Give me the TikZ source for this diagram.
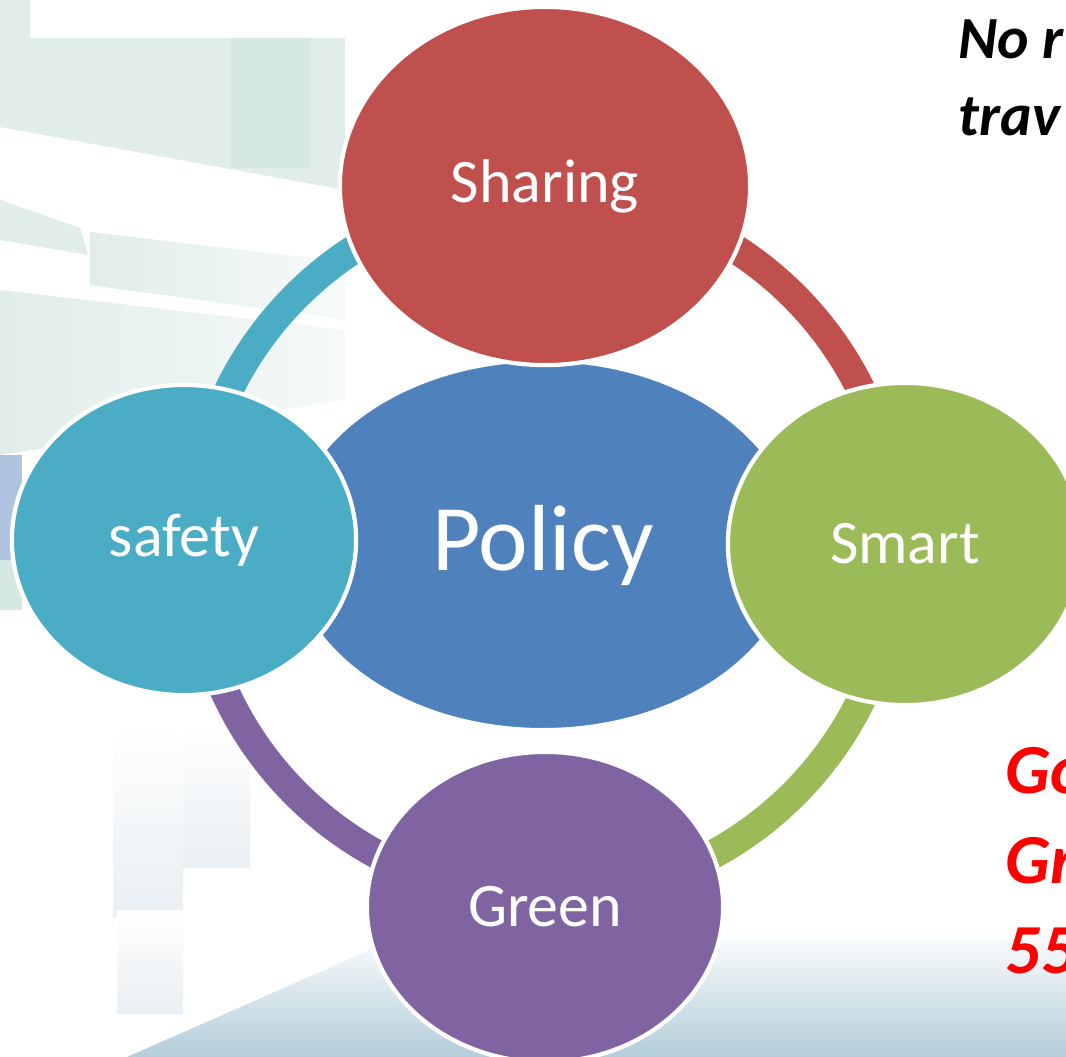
\documentclass[tikz,border=0pt]{standalone}
\usepackage{fontspec}
\setmainfont{Carlito}
\usetikzlibrary{shapes.geometric}

\definecolor{SharingRed}{HTML}{C0504D}
\definecolor{PolicyBlue}{HTML}{4F81BD}
\definecolor{SmartGreen}{HTML}{9BBB59}
\definecolor{GreenPurple}{HTML}{8064A2}
\definecolor{SafetyTeal}{HTML}{4BACC6}
\definecolor{HazeTeal}{HTML}{E0EDEA}
\definecolor{PillarTeal}{HTML}{D5E8E4}
\definecolor{WallBlue}{HTML}{AFC4DE}
\definecolor{PanelGrey}{HTML}{E9EFF3}
\definecolor{FloorBlue}{HTML}{B3CDD9}
\definecolor{AlertRed}{HTML}{FF0000}

\begin{document}
\begin{tikzpicture}[x=0.01cm, y=-0.01cm]
\useasboundingbox (0,0) rectangle (1066,1057);
\clip (0,0) rectangle (1066,1057);

\coordinate (Hub) at (545, 545);
\coordinate (P_1) at (543, 545);
\coordinate (S_1) at (545, 186);
\coordinate (S_2) at (905, 544);
\coordinate (S_3) at (545, 907);
\coordinate (S_4) at (184, 540);


\fill[white] (0,0) rectangle (1066,1057);
\fill[HazeTeal] (0,0) -- (30,0) -- (30,38) -- (345,38) -- (345,190) -- (0,127) -- cycle;
\fill[PillarTeal] (230,38) rectangle (310,168);
\fill[HazeTeal] (0,200) -- (80,228) -- (88,255) -- (0,240) -- cycle;
\shade[left color=HazeTeal, right color=HazeTeal!25] (90,232) -- (345,262) -- (345,320) -- (90,285) -- cycle;
\shade[left color=HazeTeal, right color=HazeTeal!30] (0,290) -- (345,330) -- (345,400) -- (0,455) -- cycle;
\fill[WallBlue] (0,455) rectangle (22,560);
\fill[PillarTeal] (0,560) rectangle (22,610);
\shade[top color=white, bottom color=PanelGrey] (113,727) rectangle (183,917);
\shade[top color=white, bottom color=PanelGrey] (183,723) rectangle (250,867);
\shade[top color=white, bottom color=PanelGrey] (117,910) rectangle (183,1013);
\shade[top color=white, bottom color=FloorBlue] (127,1057) -- (370,950) -- (700,928) -- (1066,928) -- (1066,1057) -- cycle;


\tikzset{RingStyle/.style = {line width=0.29cm} }

\draw[ RingStyle, SharingRed] ([shift={(-90:352)}]Hub) arc[start angle=-90, end angle=0, radius=352];
\draw[ RingStyle, SmartGreen] ([shift={(0:352)}]Hub) arc[start angle=0, end angle=90, radius=352];
\draw[ RingStyle, GreenPurple] ([shift={(90:352)}]Hub) arc[start angle=90, end angle=180, radius=352];
\draw[ RingStyle, SafetyTeal] ([shift={(180:352)}]Hub) arc[start angle=180, end angle=270, radius=352];


\tikzset{BubbleStyle/.style = {
 shape = ellipse,
 draw = white,
 line width = 1.2pt,
 text = white,
 inner sep = 0pt,
 font = \fontsize{17.6}{21}\selectfont} }

\node[BubbleStyle, fill=PolicyBlue, minimum width=5.1cm, minimum height=3.7cm,
 font=\fontsize{26.7}{31}\selectfont] (Policy) at (P_1) {Policy};
\node[BubbleStyle, fill=SharingRed, minimum width=4.1cm, minimum height=3.58cm] (Sharing) at (S_1) {Sharing};
\node[BubbleStyle, fill=SmartGreen, minimum width=3.54cm, minimum height=3.22cm] (Smart) at (S_2) {Smart};
\node[BubbleStyle, fill=GreenPurple, minimum width=3.56cm, minimum height=3.1cm] (Green) at (S_3) {Green};
\node[BubbleStyle, fill=SafetyTeal, minimum width=3.44cm, minimum height=3.1cm] (Safety) at (S_4) {safety};


\tikzset{NoteStyle/.style = {
 anchor = base west,
 inner sep = 0pt,
 font = \fontsize{17}{20}\selectfont\bfseries\itshape} }

\node[NoteStyle] (N1) at (958, 58) {No r};
\node[NoteStyle] (N2) at (958, 135) {trav};
\node[NoteStyle, text=AlertRed, font=\fontsize{20}{24}\selectfont\bfseries\itshape] (N3) at (1005, 793) {Go};
\node[NoteStyle, text=AlertRed, font=\fontsize{20}{24}\selectfont\bfseries\itshape] (N4) at (1005, 883) {Gr};
\node[NoteStyle, text=AlertRed, font=\fontsize{20}{24}\selectfont\bfseries\itshape] (N5) at (1005, 973) {55};

\end{tikzpicture}
\end{document}
